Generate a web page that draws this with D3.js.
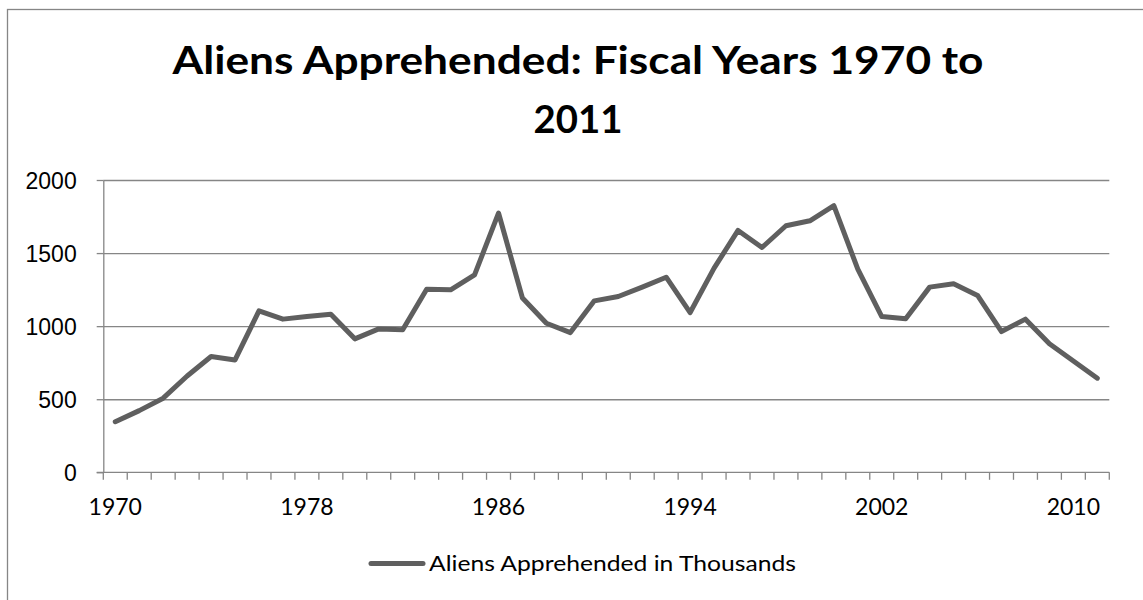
<!DOCTYPE html>
<html lang="en">
<head>
<meta charset="UTF-8">
<title>Aliens Apprehended</title>
<script src="https://cdn.jsdelivr.net/npm/d3@7"></script>
<style>
  body { margin: 0; background: #fff; }
  svg { display: block; font-family: Lato, "Open Sans", sans-serif; }
  .grid line { stroke: #868686; stroke-width: 1.3px; }
  .grid path { stroke-width: 0; }
  .axis line, .axis path { stroke: #868686; stroke-width: 1.3px; }
  .axis text { font-size: 23px; fill: #000; }
</style>
</head>
<body>
<div id="chart"></div>
<script>
// data (thousands)
var years = [1970,1971,1972,1973,1974,1975,1976,1977,1978,1979,
             1980,1981,1982,1983,1984,1985,1986,1987,1988,1989,
             1990,1991,1992,1993,1994,1995,1996,1997,1998,1999,
             2000,2001,2002,2003,2004,2005,2006,2007,2008,2009,
             2010,2011];
var apprehended = [346,422,507,659,792,769,1105,1048,1066,1082,
                   913,981,975,1253,1249,1351,1774,1192,1020,956,
                   1173,1203,1267,1335,1093,1397,1655,1538,1687,1721,
                   1824,1390,1066,1050,1267,1290,1210,963,1048,879,
                   762,644];
var yTicks = [0, 500, 1000, 1500, 2000];
var xLabels = [1970, 1978, 1986, 1994, 2002, 2010];
var titleLines = ["Aliens Apprehended: Fiscal Years 1970 to", "2011"];
var seriesName = "Aliens Apprehended in Thousands";

var width = 1143, height = 600;
var plotLeft = 103.3, plotRight = 1109.3, plotTop = 180, plotBottom = 472.3;

var svg = d3.select("#chart").append("svg")
    .attr("width", width)
    .attr("height", height);

// chart border
svg.append("rect")
    .attr("x", 7.5).attr("y", 9.5)
    .attr("width", 1200).attr("height", 700)
    .attr("fill", "#fff")
    .attr("stroke", "#868686")
    .attr("stroke-width", 1.3);

var x = d3.scaleBand().domain(years).range([plotLeft, plotRight]).padding(0);
var y = d3.scaleLinear().domain([0, 2000]).range([plotBottom, plotTop]);

// grid
svg.append("g")
    .attr("class", "grid")
    .attr("transform", "translate(" + plotLeft + ",0)")
    .call(d3.axisLeft(y).tickValues(yTicks.slice(1)).tickSize(-(plotRight - plotLeft)).tickFormat(""));

// y axis
var yAxis = svg.append("g")
    .attr("class", "axis")
    .attr("transform", "translate(" + plotLeft + ",0)")
    .call(d3.axisLeft(y).tickValues(yTicks).tickFormat(d3.format("d"))
          .tickSize(6.6).tickSizeOuter(0).tickPadding(20));
yAxis.selectAll("text").attr("dy", "0.36em");

// x axis: ticks at category boundaries
var xAxis = svg.append("g").attr("class", "axis");
xAxis.append("line")
    .attr("x1", plotLeft - 6.6).attr("x2", plotRight)
    .attr("y1", plotBottom).attr("y2", plotBottom);
var bounds = years.map(function(d){ return x(d); }).concat([plotRight]);
xAxis.selectAll("line.tick")
    .data(bounds)
    .enter().append("line")
    .attr("class", "tick")
    .attr("x1", function(d){ return d; })
    .attr("x2", function(d){ return d; })
    .attr("y1", plotBottom)
    .attr("y2", plotBottom + 7.5);
xAxis.selectAll("text")
    .data(xLabels)
    .enter().append("text")
    .attr("x", function(d){ return x(d) + x.bandwidth() / 2; })
    .attr("y", plotBottom + 43)
    .attr("text-anchor", "middle")
    .text(function(d){ return d; });

// series line
var line = d3.line()
    .x(function(d, i){ return x(years[i]) + x.bandwidth() / 2; })
    .y(function(d){ return y(d); });

svg.append("path")
    .attr("d", line(apprehended))
    .attr("fill", "none")
    .attr("stroke", "#5f5f5f")
    .attr("stroke-width", 5)
    .attr("stroke-linejoin", "round")
    .attr("stroke-linecap", "round");

// title
svg.selectAll("text.title")
    .data(titleLines)
    .enter().append("text")
    .attr("class", "title")
    .attr("x", 578)
    .attr("y", function(d, i){ return 74.3 + i * 59; })
    .attr("text-anchor", "middle")
    .attr("font-size", 39)
    .attr("font-weight", "bold")
    .attr("fill", "#000")
    .attr("textLength", function(d, i){ return i === 0 ? 811 : 89; })
    .attr("lengthAdjust", "spacingAndGlyphs")
    .text(function(d){ return d; });

// legend
svg.append("line")
    .attr("x1", 371).attr("x2", 423)
    .attr("y1", 563.5).attr("y2", 563.5)
    .attr("stroke", "#5f5f5f")
    .attr("stroke-width", 5)
    .attr("stroke-linecap", "round");
svg.append("text")
    .attr("x", 429)
    .attr("y", 570.7)
    .attr("font-size", 22)
    .attr("fill", "#000")
    .attr("textLength", 367)
    .attr("lengthAdjust", "spacingAndGlyphs")
    .text(seriesName);
</script>
</body>
</html>
